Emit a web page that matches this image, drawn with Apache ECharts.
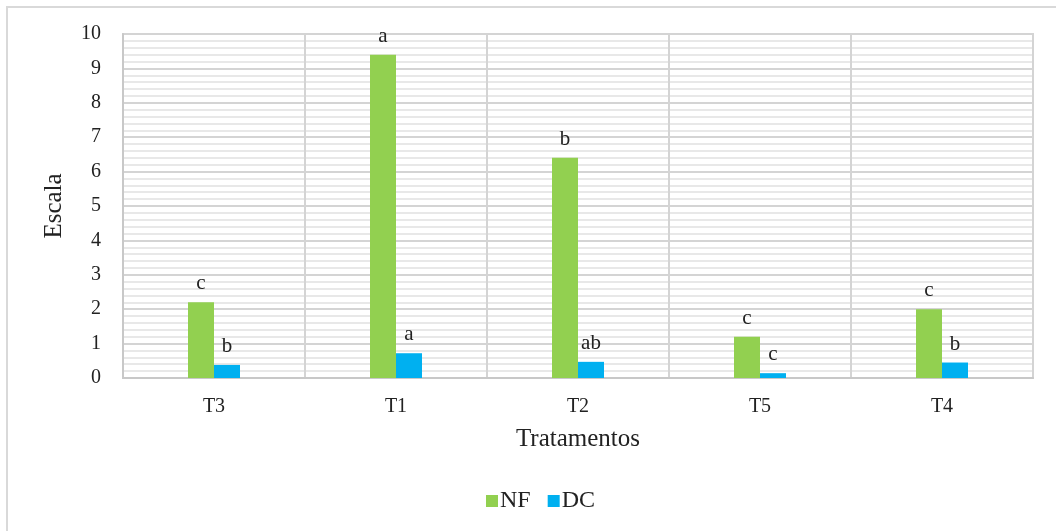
<!DOCTYPE html>
<html>
<head>
<meta charset="utf-8">
<script src="https://cdn.jsdelivr.net/npm/echarts@6/dist/echarts.min.js"></script>
<style>html,body{margin:0;padding:0;background:#fff;}#c{width:1056px;height:531px;}</style>
</head>
<body>
<div id="c"></div>
<script>
const categories = ['T3', 'T1', 'T2', 'T5', 'T4'];
const nfValues = [2.2, 9.4, 6.4, 1.2, 2.0];
const dcValues = [0.38, 0.72, 0.47, 0.14, 0.45];
const nfLetters = ['c', 'a', 'b', 'c', 'c'];
const dcLetters = ['b', 'a', 'ab', 'c', 'b'];

const FONT = '"Liberation Serif", "Times New Roman", serif';
const chart = echarts.init(document.getElementById('c'), null, {renderer: 'canvas'});

function labelOf(letters) {
  return {
    show: true, position: 'top', distance: 8,
    fontFamily: FONT, fontSize: 21, color: '#222',
    formatter: p => letters[p.dataIndex]
  };
}

chart.setOption({
  animation: false,
  backgroundColor: '#fff',
  graphic: [{
    type: 'rect', shape: {x: 7, y: 7, width: 1070, height: 540},
    style: {fill: 'none', stroke: '#d9d9d9', lineWidth: 2}, z: -1
  }],
  grid: {left: 123, right: 23, top: 34, bottom: 153, show: true, borderColor: '#d4d4d4', borderWidth: 2, backgroundColor: 'transparent'},
  legend: {
    data: ['NF', 'DC'], bottom: 13, left: 481,
    itemWidth: 12, itemHeight: 12, itemGap: 17, icon: 'rect',
    textStyle: {fontFamily: FONT, fontSize: 24, color: '#222', padding: [0, 0, 0, -3]}
  },
  xAxis: {
    type: 'category', data: categories,
    name: 'Tratamentos', nameLocation: 'middle', nameGap: 49,
    nameTextStyle: {fontFamily: FONT, fontSize: 25, color: '#222'},
    axisLine: {lineStyle: {color: '#c8c8c8', width: 2}},
    axisTick: {show: false},
    axisLabel: {fontFamily: FONT, fontSize: 20, color: '#222', margin: 19},
    splitLine: {show: true, lineStyle: {color: '#d4d4d4', width: 2}}
  },
  yAxis: {
    type: 'value', min: 0, max: 10, interval: 1,
    name: 'Escala', nameLocation: 'middle', nameGap: 56,
    nameTextStyle: {fontFamily: FONT, fontSize: 25, color: '#222'},
    axisLine: {show: true, lineStyle: {color: '#c8c8c8', width: 2}},
    axisTick: {show: false},
    axisLabel: {fontFamily: FONT, fontSize: 20, color: '#222', margin: 22},
    splitLine: {show: true, lineStyle: {color: '#d4d4d4', width: 2}},
    minorTick: {show: false, splitNumber: 5},
    minorSplitLine: {show: true, lineStyle: {color: '#e8e8e8', width: 2}}
  },
  series: [
    {name: 'NF', type: 'bar', data: nfValues, barWidth: 26, barGap: '0%',
     itemStyle: {color: '#92d050'}, label: labelOf(nfLetters)},
    {name: 'DC', type: 'bar', data: dcValues, barWidth: 26, barGap: '0%',
     itemStyle: {color: '#00b0f0'}, label: labelOf(dcLetters)}
  ]
});
</script>
</body>
</html>
